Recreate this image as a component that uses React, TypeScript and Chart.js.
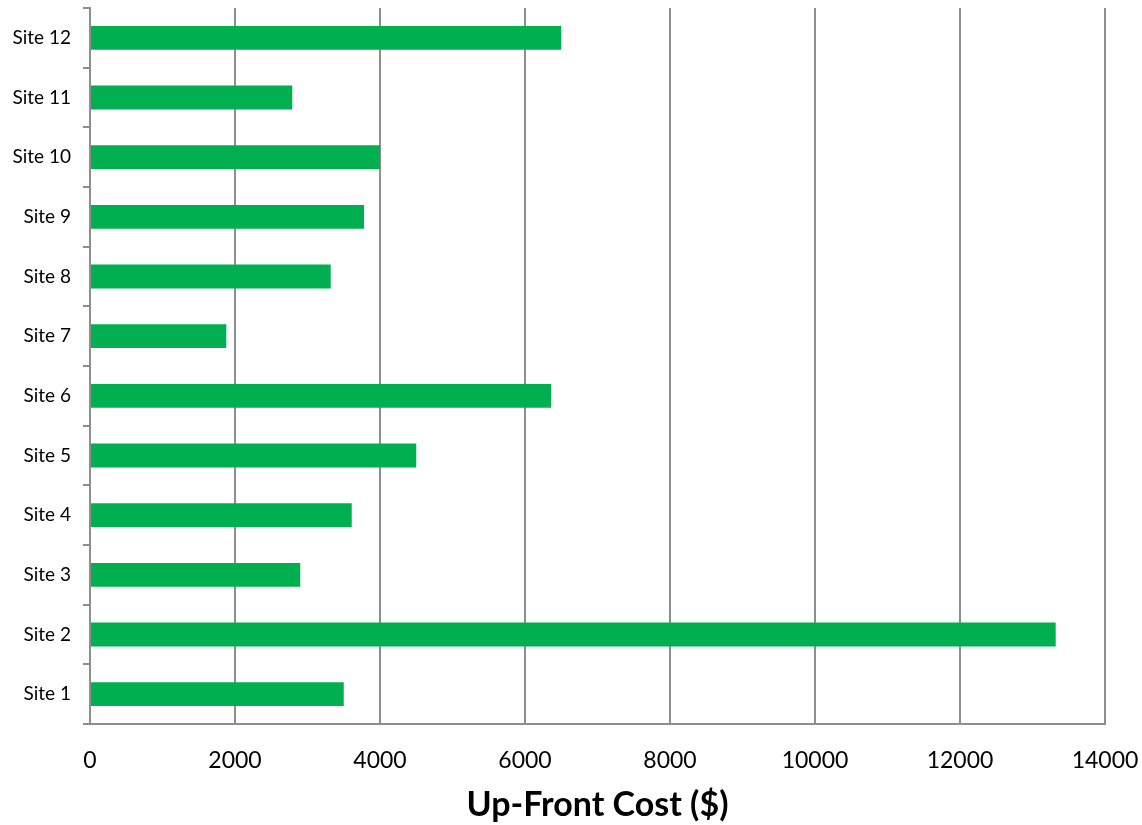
import React, { useEffect, useRef } from "react";
import { Chart, registerables } from "chart.js";

Chart.register(...registerables);

const categories = ["Site 1", "Site 2", "Site 3", "Site 4", "Site 5", "Site 6", "Site 7", "Site 8", "Site 9", "Site 10", "Site 11", "Site 12"];
const costs = [3500, 13320, 2900, 3610, 4500, 6360, 1880, 3320, 3780, 4000, 2790, 6500];
const xTitle = "Up-Front Cost ($)";
const xMin = 0;
const xMax = 14000;
const xStep = 2000;

const GRID = "#8e8e8e";
const FONT = "Lato, 'Open Sans', sans-serif";

export default function App() {
  const ref = useRef<HTMLCanvasElement | null>(null);
  useEffect(() => {
    if (!ref.current) return;
    const chart = new Chart(ref.current, {
      type: "bar",
      data: {
        labels: categories,
        datasets: [
          {
            data: costs,
            backgroundColor: "#00B050",
            borderWidth: 0,
            categoryPercentage: 1,
            barPercentage: 0.4,
          },
        ],
      },
      options: {
        indexAxis: "y",
        responsive: false,
        animation: false,
        maintainAspectRatio: false,
        layout: { padding: { top: 8, right: 37, left: 0, bottom: 0 } },
        plugins: { legend: { display: false }, tooltip: { enabled: false } },
        scales: {
          x: {
            min: xMin,
            max: xMax,
            ticks: {
              stepSize: xStep,
              color: "#000",
              font: { family: FONT, size: 23 },
              padding: 23,
              maxRotation: 0,
              callback: (v: any) => String(v),
            },
            grid: { color: GRID, lineWidth: 2, drawTicks: false },
            border: { color: GRID, width: 2 },
            title: {
              display: true,
              text: xTitle,
              color: "#000",
              font: { family: FONT, size: 34, weight: "bold" },
              padding: { top: 0, bottom: 0 },
            },
            afterFit: (s: any) => {
              s.height = 101;
              s.paddingLeft = 0;
              s.paddingRight = 0;
            },
          },
          y: {
            reverse: true,
            offset: true,
            ticks: {
              color: "#000",
              font: { family: FONT, size: 19 },
              padding: 12,
            },
            grid: {
              offset: true,
              drawOnChartArea: false,
              drawTicks: true,
              tickLength: 7,
              color: GRID,
              lineWidth: 2,
            },
            border: { color: GRID, width: 2 },
            afterFit: (s: any) => {
              s.width = 90;
              s.paddingTop = 0;
              s.paddingBottom = 0;
            },
          },
        },
      },
    });
    return () => chart.destroy();
  }, []);
  return (
    <div style={{ position: "fixed", left: 0, top: 0, width: 1142, height: 825, background: "#fff" }}>
      <canvas ref={ref} width={1142} height={825} style={{ width: 1142, height: 825 }} />
    </div>
  );
}
